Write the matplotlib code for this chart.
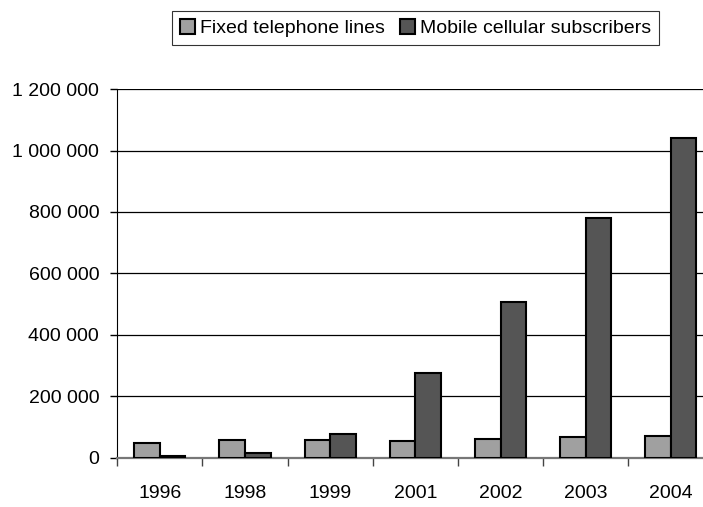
import matplotlib
matplotlib.use("Agg")
import matplotlib.pyplot as plt
import numpy as np
from matplotlib.ticker import FuncFormatter, FixedLocator

years = ["1996", "1998", "1999", "2001", "2002", "2003", "2004"]
fixed_lines = [46000, 57000, 58000, 55000, 60000, 66000, 71000]
mobile_subs = [5000, 15000, 75000, 276000, 507000, 780000, 1041000]

plt.rcParams['font.family'] = ['Liberation Sans', 'DejaVu Sans']

fig = plt.figure(figsize=(7.03, 5.07), dpi=100)
# axes extends slightly past the right edge of the figure, as in the reference
ax = fig.add_axes([117.3/703, 1-457.5/507, (713.4-117.3)/703, (457.5-89.1)/507])

x = np.arange(len(years))
w = 0.30
ax.bar(x - w/2, fixed_lines, w, color='#a0a0a0', edgecolor='black', linewidth=1.5,
       label='Fixed telephone lines', zorder=3)
ax.bar(x + w/2, mobile_subs, w, color='#555555', edgecolor='black', linewidth=1.5,
       label='Mobile cellular subscribers', zorder=3)

ax.set_xlim(-0.5, len(years) - 0.5)
ax.set_ylim(0, 1200000)
ax.set_yticks(np.arange(0, 1200001, 200000))
ax.yaxis.set_major_formatter(FuncFormatter(lambda v, p: f"{int(v):,}".replace(",", " ")))
ax.yaxis.grid(True, color='black', linewidth=0.9, zorder=0)
ax.set_axisbelow(True)

ax.set_xticks(x)
ax.set_xticklabels(years)
ax.tick_params(axis='x', which='major', length=0, pad=19.5, labelsize=14)
ax.xaxis.set_minor_locator(FixedLocator(np.arange(-0.5, len(years) - 1, 1.0).tolist()))
ax.tick_params(axis='x', which='minor', length=6, width=1, color='#444444', direction='out')
ax.tick_params(axis='y', length=5, width=1, labelsize=14, direction='out', pad=8)

for s in ['top', 'right']:
    ax.spines[s].set_visible(False)
ax.spines['left'].set_color('black')
ax.spines['bottom'].set_color('#777777')
ax.spines['bottom'].set_linewidth(1.6)

leg = fig.legend(loc='center', bbox_to_anchor=(415.5/703, 1-28/507), ncol=2, frameon=True,
                 fancybox=False, edgecolor='black', fontsize=14, handlelength=0.8,
                 handleheight=0.8, handletextpad=0.25, columnspacing=0.75, borderpad=0.4)
leg.get_frame().set_linewidth(0.8)

fig.savefig("out.png", dpi=100)
